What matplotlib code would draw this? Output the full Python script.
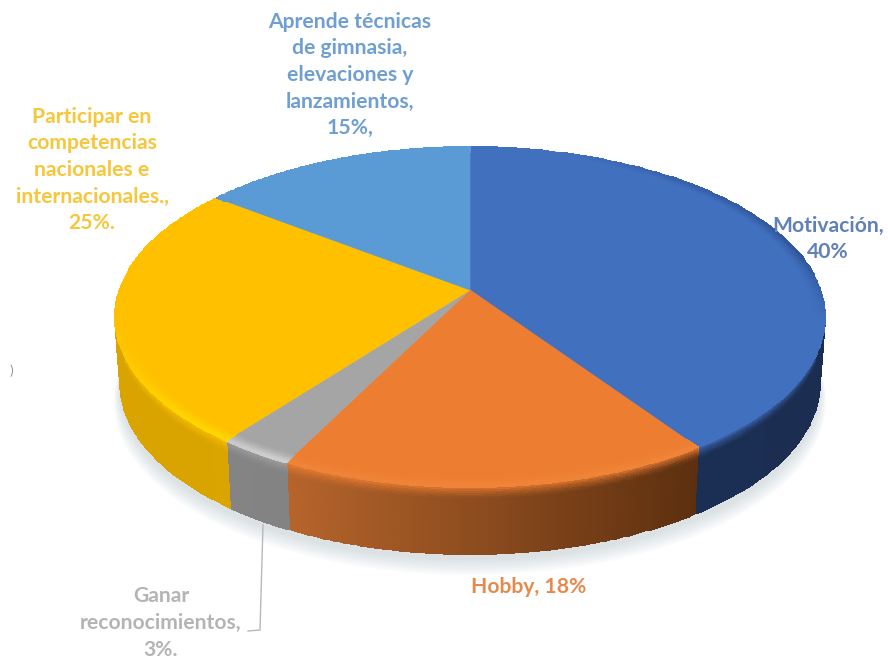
import numpy as np
import matplotlib
matplotlib.use('Agg')
import matplotlib.pyplot as plt

slices      = ["Motivación", "Hobby", "Ganar reconocimientos", "Participar en competencias", "Aprende técnicas"]
values      = [40, 18, 3, 25, 15]
tops        = ["#4170bf", "#ed7d31", "#a5a5a5", "#ffc000", "#5b9bd5"]
rims        = ["#2b4f8f", "#ef8539", "#d2d2d2", "#ffe000", "#5b9bd5"]
sides_left  = ["#1b3158", "#b5642b", "#858585", "#d9a300", "#3f77ad"]
sides_right = ["#1b2e52", "#5c2f0f", "#7d7d7d", "#e0ae00", "#3f77ad"]
label_lines = [
    ["Motivación,", "40%"],
    ["Hobby, 18%"],
    ["Ganar", "reconocimientos,", "3%."],
    ["Participar en", "competencias", "nacionales e", "internacionales.,", "25%."],
    ["Aprende técnicas", "de gimnasia,", "elevaciones y", "lanzamientos,", "15%,"],
]
label_colors = ["#5f80b8", "#e58a4e", "#b4b4b4", "#f7c63a", "#6f9fd0"]
label_pos    = [(828, 239), (529, 587), (161, 623), (92, 170), (350, 75)]

cx, cy  = 470, 290
a, b, k = 350.5, 165.7, 0.159
depth   = 67
shrink  = 0.985


def rgb(c) :
    return np.array(matplotlib.colors.to_rgb(c))


def warp(theta) :
    # angle on the tilted disc, slightly stretched sideways by the view
    s = np.sin(theta)
    c = np.cos(theta)
    return theta + np.radians(np.where(s > 0, 5.0 * s, -2.2 * s * np.clip(c, 0, 1)))


def project(theta, r=1.0) :
    # perspective view of the disc, theta runs clockwise from the back
    u = r * np.sin(theta)
    v = r * np.cos(theta)
    w = 1 + k * v
    return cx + a * u / w, cy - b * v / w


def lower(theta) :
    x, y = project(theta)
    return cx + (x - cx) * shrink, y + depth


def mix(c1, c2, t) :
    return c1[None, None, :] * (1 - t[..., None]) + c2[None, None, :] * t[..., None]


fig = plt.figure(figsize=(8.88, 6.61), dpi=100)
ax  = fig.add_axes([0, 0, 1, 1])
ax.set_xlim(0, 888)
ax.set_ylim(661, 0)
ax.axis('off')

fracs  = np.array(values) / np.sum(values)
edges  = warp(np.concatenate([[0], np.cumsum(fracs)]) * 2 * np.pi)
circle = np.linspace(0, 2 * np.pi, 360)

# soft shadow below the disc
for i in range(14) :
    sx, sy = lower(circle)
    grow   = 1 + 0.0014 * i
    ax.fill(cx + (sx - cx) * grow, cy + 6 + (sy - cy) * grow + i * 0.8,
            color="#a3b2c2", alpha=0.028, lw=0, zorder=1)

# side wall of every slice, shaded across and down
for i in range(len(values)) :
    th = np.linspace(edges[i], edges[i + 1], 120)
    s  = np.linspace(0, 1, 40)
    x0, y0 = project(th)
    x1, y1 = lower(th)
    X = np.outer(1 - s, x0) + np.outer(s, x1)
    Y = np.outer(1 - s, y0) + np.outer(s, y1)

    across = (0.5 * (x0[:-1] + x0[1:]) - 115) / 710
    if i == 1 :
        across = (0.5 * (x0[:-1] + x0[1:]) - 290) / 410
    across = np.clip(across, 0, 1)
    base   = np.outer(1 - across, rgb(sides_left[i])) + np.outer(across, rgb(sides_right[i]))
    base   = np.repeat(base[None, :, :], len(s) - 1, axis=0)

    # wall starts from the top colour and fades within the first few pixels
    sm   = 0.5 * (s[:-1] + s[1:])
    fade = (np.clip(1 - sm / 0.2, 0, 1) ** 1.5)[:, None, None]
    col  = base * (1 - fade) + rgb(tops[i])[None, None, :] * fade
    ax.pcolormesh(X, Y, col, shading='flat', edgecolors='face', linewidth=0.3, zorder=2)

# flat top
for i in range(len(values)) :
    th = np.linspace(edges[i], edges[i + 1], 200)
    x, y = project(th)
    ax.fill(np.r_[cx, x], np.r_[cy, y], color=tops[i], lw=0.5, zorder=3)

# bevel along the rim, strongest on the front, dark on the right of the blue slice
for i in range(len(values)) :
    th  = np.linspace(edges[i], edges[i + 1], 120)
    rr  = np.linspace(0.96, 1.0, 12)
    X   = np.array([project(th, r)[0] for r in rr])
    Y   = np.array([project(th, r)[1] for r in rr])
    mid = 0.5 * (th[:-1] + th[1:])
    if i == 0 :
        front = np.clip(np.sin(mid) - 0.3, 0, 1) * 1.2 * np.clip(np.cos(mid) / 0.4 + 0.5, 0, 1)
    elif i == 4 :
        front = np.zeros_like(mid)
    else :
        front = np.clip(-0.2 - np.cos(mid), 0, 1) * 1.4
    front = np.clip(front, 0, 1)
    t      = ((rr[:-1] + rr[1:]) / 2 - rr[0]) / (rr[-1] - rr[0])
    weight = np.outer(t ** 1.5, front)
    ax.pcolormesh(X, Y, mix(rgb(tops[i]), rgb(rims[i]), weight), shading='flat',
                  edgecolors='face', linewidth=0.3, zorder=4)

# leader for the small slice
ax.plot([263, 260, 248], [525, 630, 631], color="#b8b8b8", lw=1, zorder=5)

for lines, color, pos in zip(label_lines, label_colors, label_pos) :
    ax.text(pos[0], pos[1], "\n".join(lines), color=color, ha='center', va='center',
            fontsize=15.2, fontweight='bold', family=['Lato', 'DejaVu Sans'],
            linespacing=1.42, zorder=6)

ax.text(11, 371, ")", color="#9a9a9a", ha='center', va='center', fontsize=10,
        family=['Lato', 'DejaVu Sans'])

fig.savefig('out.png', dpi=100)
